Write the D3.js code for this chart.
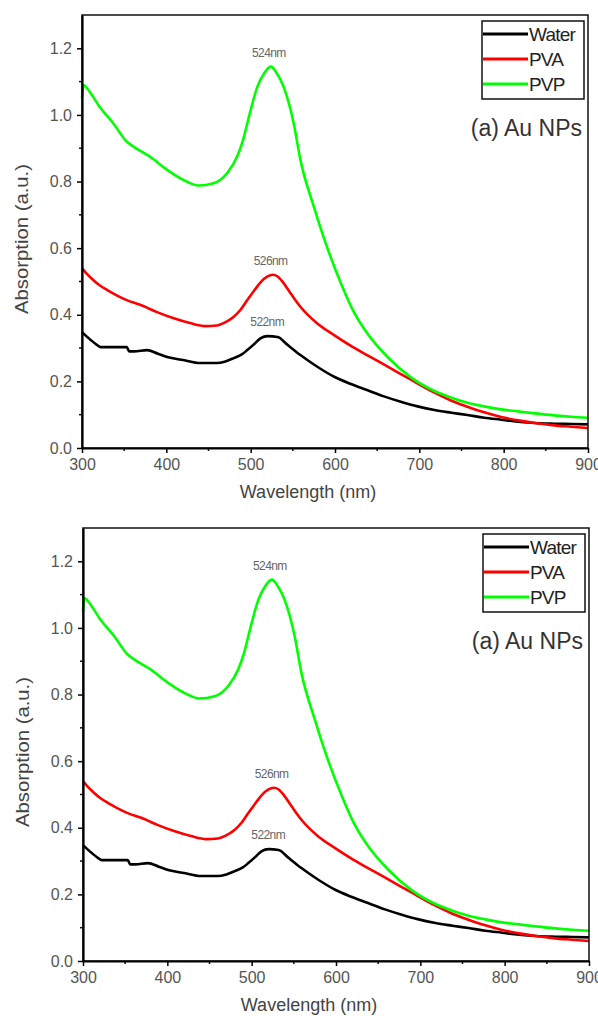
<!DOCTYPE html>
<html>
<head>
<meta charset="utf-8">
<script src="https://cdn.jsdelivr.net/npm/d3@7"></script>
<style>
  body { margin: 0; background: #fff; }
  svg { display: block; font-family: "Liberation Sans", Arial, sans-serif; }
</style>
</head>
<body>
<div id="chart-area"></div>
<script>
// wavelength (nm), absorption (a.u.)
var water = [[300,0.348],[310,0.325],[318,0.309],[322,0.303],[353,0.303],[356,0.29],[362,0.29],[377,0.294],[390,0.283],[401,0.273],[420,0.264],[440,0.255],[460,0.255],[470,0.26],[480,0.27],[490,0.282],[496,0.294],[505,0.314],[512,0.33],[520,0.336],[532,0.333],[544,0.309],[559,0.279],[579,0.244],[599,0.214],[618,0.193],[638,0.174],[658,0.155],[678,0.139],[698,0.125],[718,0.114],[738,0.106],[757,0.099],[777,0.091],[797,0.085],[817,0.079],[837,0.075],[860,0.073],[880,0.072],[900,0.071]];
var pva = [[300,0.54],[305,0.525],[313,0.505],[320,0.49],[330,0.474],[340,0.46],[353,0.444],[369,0.43],[389,0.408],[408,0.39],[428,0.375],[446,0.366],[460,0.368],[468,0.375],[480,0.394],[488,0.415],[496,0.444],[504,0.472],[512,0.498],[520,0.515],[526,0.52],[532,0.515],[539,0.495],[548,0.462],[559,0.424],[579,0.374],[599,0.339],[618,0.308],[638,0.279],[662,0.245],[690,0.205],[718,0.166],[738,0.142],[757,0.124],[777,0.107],[797,0.093],[817,0.083],[837,0.075],[860,0.068],[880,0.064],[900,0.06]];
var pvp = [[300,1.05],[302,1.09],[306,1.08],[321,1.024],[337,0.975],[353,0.92],[361,0.905],[381,0.874],[401,0.835],[420,0.805],[438,0.788],[456,0.795],[472,0.825],[484,0.875],[491,0.925],[498,0.995],[508,1.085],[516,1.125],[524,1.145],[531,1.125],[539,1.085],[551,0.975],[559,0.865],[575,0.724],[591,0.6],[607,0.495],[622,0.41],[638,0.345],[662,0.274],[690,0.212],[718,0.171],[738,0.151],[757,0.136],[777,0.125],[797,0.116],[817,0.11],[837,0.104],[860,0.098],[880,0.094],[900,0.091]];

var seriesNames = ["Water", "PVA", "PVP"];
var seriesData = [water, pva, pvp];
var seriesColors = ["#000000", "#ff0000", "#00ff00"];

var peakLabels = ["524nm", "526nm", "522nm"];
var peakPos = [[524, 1.175], [526, 0.55], [522, 0.365]];

var xTicks = [300, 400, 500, 600, 700, 800, 900];
var yTicks = [0.0, 0.2, 0.4, 0.6, 0.8, 1.0, 1.2];

var plotW = 506, plotH = 433;

var svg = d3.select("#chart-area").append("svg")
    .attr("width", 598)
    .attr("height", 1016);

var x = d3.scaleLinear().domain([300, 900]).range([0, plotW]);
var y = d3.scaleLinear().domain([0, 1.3]).range([plotH, 0]);

function drawPanel(left, top) {
    var g = svg.append("g").attr("transform", `translate(${left},${top})`);

    var line = d3.line()
        .x(d => x(d[0]))
        .y(d => y(d[1]))
        .curve(d3.curveMonotoneX);

    seriesData.forEach((s, i) => {
        g.append("path")
            .attr("d", line(s))
            .attr("fill", "none")
            .attr("stroke", seriesColors[i])
            .attr("stroke-width", 2.6);
    });

    // frame
    g.append("rect")
        .attr("width", plotW).attr("height", plotH)
        .attr("fill", "none")
        .attr("stroke", "#111")
        .attr("stroke-width", 1.5);

    // minor ticks
    var xMinor = d3.range(350, 900, 100);
    var yMinor = d3.range(0.1, 1.3, 0.2);
    g.selectAll(".xminor").data(xMinor).enter().append("line")
        .attr("x1", d => x(d)).attr("x2", d => x(d))
        .attr("y1", plotH).attr("y2", plotH + 3)
        .attr("stroke", "#111").attr("stroke-width", 1.5);
    g.selectAll(".yminor").data(yMinor).enter().append("line")
        .attr("x1", 0).attr("x2", -3)
        .attr("y1", d => y(d)).attr("y2", d => y(d))
        .attr("stroke", "#111").attr("stroke-width", 1.5);

    var xAxis = g.append("g").attr("transform", `translate(0,${plotH})`)
        .call(d3.axisBottom(x).tickValues(xTicks).tickSize(5).tickPadding(6).tickSizeOuter(0));
    var yAxis = g.append("g")
        .call(d3.axisLeft(y).tickValues(yTicks).tickFormat(d3.format(".1f")).tickSize(5).tickPadding(5).tickSizeOuter(0));

    [xAxis, yAxis].forEach(a => {
        a.select(".domain").attr("stroke", "#000").attr("stroke-width", 2.2);
        a.selectAll(".tick line").attr("stroke", "#000").attr("stroke-width", 1.5);
        a.selectAll(".tick text")
            .attr("fill", "#555")
            .attr("font-size", "16px")
            .attr("font-family", "Liberation Sans, Arial, sans-serif");
    });

    g.append("text")
        .attr("x", 226).attr("y", plotH + 50)
        .attr("text-anchor", "middle")
        .attr("fill", "#444")
        .attr("font-size", "18px")
        .text("Wavelength (nm)");

    g.append("text")
        .attr("transform", "rotate(-90)")
        .attr("x", -224).attr("y", -54)
        .attr("text-anchor", "middle")
        .attr("fill", "#444")
        .attr("font-size", "18px")
        .attr("textLength", 150)
        .attr("lengthAdjust", "spacingAndGlyphs")
        .text("Absorption (a.u.)");

    peakLabels.forEach((t, i) => {
        g.append("text")
            .attr("x", x(peakPos[i][0]) - 2)
            .attr("y", y(peakPos[i][1]))
            .attr("text-anchor", "middle")
            .attr("fill", "#666")
            .attr("font-size", "12px")
            .attr("letter-spacing", "-0.6")
            .text(t);
    });

    // legend
    var lg = g.append("g").attr("transform", `translate(${plotW - 106},6)`);
    lg.append("rect")
        .attr("width", 102).attr("height", 78)
        .attr("fill", "#fff")
        .attr("stroke", "#111")
        .attr("stroke-width", 1.5);
    seriesNames.forEach((name, i) => {
        var row = lg.append("g").attr("transform", `translate(0,${13 + i * 25})`);
        row.append("line")
            .attr("x1", 1).attr("x2", 46)
            .attr("stroke", seriesColors[i])
            .attr("stroke-width", 3);
        row.append("text")
            .attr("x", 47).attr("y", 7)
            .attr("fill", "#222")
            .attr("font-size", "19px")
            .attr("letter-spacing", "-0.8")
            .text(name);
    });

    g.append("text")
        .attr("x", plotW - 6).attr("y", 121)
        .attr("text-anchor", "end")
        .attr("fill", "#333")
        .attr("font-size", "23px")
        .text("(a) Au NPs");
}

drawPanel(82, 15);
drawPanel(83, 528);
</script>
</body>
</html>
